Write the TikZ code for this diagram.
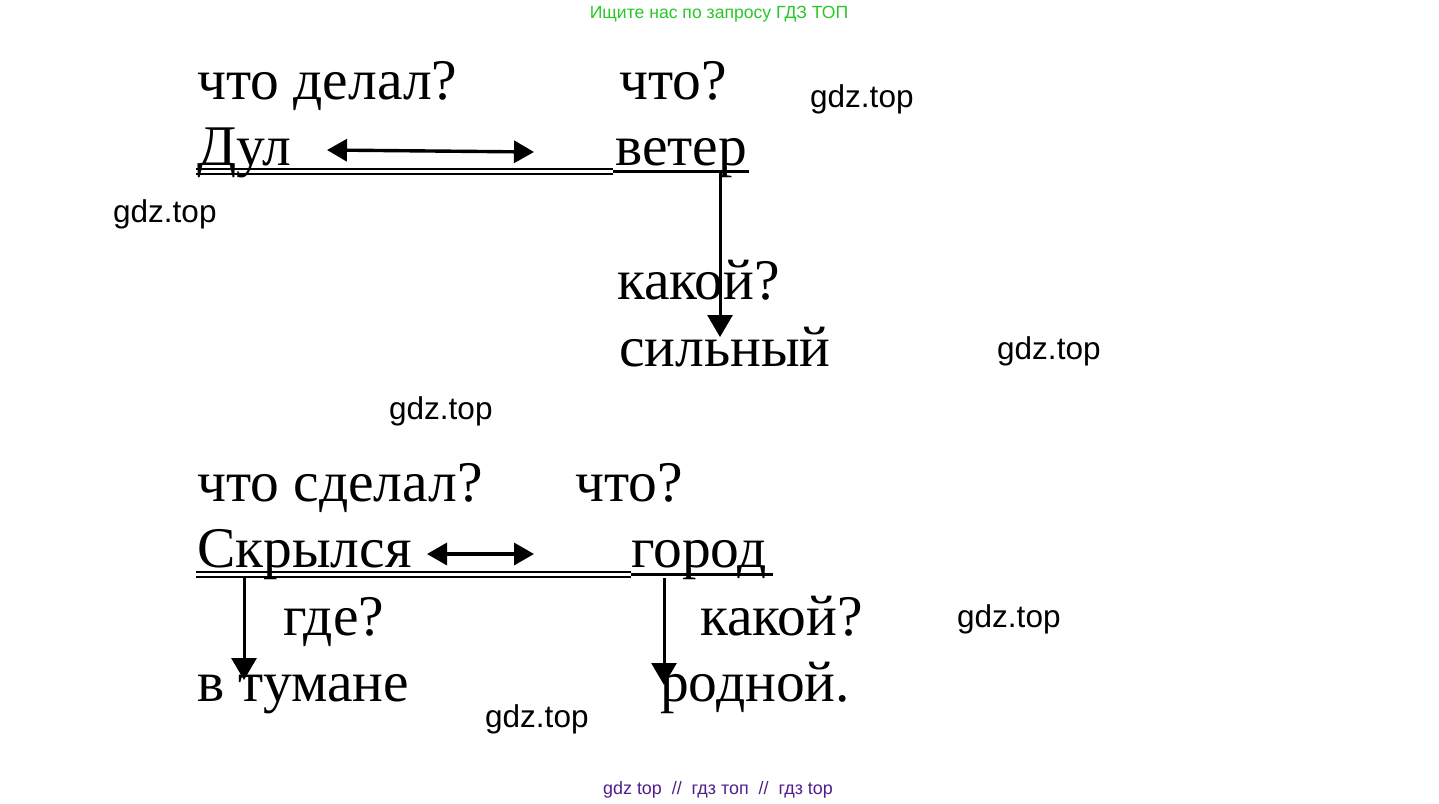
\documentclass[tikz,border=0pt]{standalone}
\usepackage{fontspec}
\setmainfont{Liberation Serif}
\newfontfamily\wmfont{Liberation Sans}
\usetikzlibrary{arrows.meta}
\definecolor{wmgreen}{RGB}{40,200,40}
\definecolor{wmpurple}{RGB}{80,30,140}
\tikzset{
  word/.style={anchor=base west, inner sep=0pt, font=\fontsize{57.5}{60}\selectfont},
  wm/.style={anchor=base west, inner sep=0pt, font=\wmfont\fontsize{31.5}{34}\selectfont},
  link/.style={line width=3.6pt},
  tip/.style={-{Triangle[length=22pt,width=25pt]}, line width=3pt},
  dtip/.style={{Triangle[length=20pt,width=22pt]}-{Triangle[length=20pt,width=22pt]}, line width=3.4pt},
  uline/.style={line width=2pt},
}
\begin{document}
\begin{tikzpicture}[x=1pt,y=-1pt]
\useasboundingbox (0,0) rectangle (1439,803);
\fill[white] (0,0) rectangle (1439,803);

% watermarks
\node[anchor=base, inner sep=0pt, font=\wmfont\fontsize{17.6}{19}\selectfont, text=wmgreen] (top) at (719,18) {Ищите нас по запросу ГДЗ ТОП};
\node[anchor=base, inner sep=0pt, font=\wmfont\fontsize{17.9}{19}\selectfont, text=wmpurple] (bot) at (718,794) {gdz top \ // \ гдз топ \ // \ гдз top};
\node[wm] (w1) at (810,107) {gdz.top};
\node[wm] (w2) at (113,222) {gdz.top};
\node[wm] (w3) at (997,359) {gdz.top};
\node[wm] (w4) at (389,419) {gdz.top};
\node[wm] (w5) at (957,627) {gdz.top};
\node[wm] (w6) at (485,727) {gdz.top};

% first sentence
\node[word] (q1) at (197,99) {что делал?};
\node[word] (q2) at (619,99) {что?};
\node[word] (dul) at (197,165) {Дул};
\node[word] (veter) at (615,165) {ветер};
\node[word] (q3) at (617,299) {какой?};
\node[word] (silny) at (619,366) {сильный};

\coordinate (a1) at (327,150);
\coordinate (a2) at (534,152);
\draw[dtip] (a1) -- (a2);
\coordinate (u1a) at (196,169);
\coordinate (u1b) at (613,169);
\coordinate (u1c) at (196,174);
\coordinate (u1d) at (613,174);
\draw[uline] (u1a) -- (u1b);
\draw[uline] (u1c) -- (u1d);
\coordinate (s1a) at (613,171.5);
\coordinate (s1b) at (749,171.5);
\draw[link] (s1a) -- (s1b);
\coordinate (v1a) at (720,171);
\coordinate (v1b) at (720,337);
\draw[tip] (v1a) -- (v1b);

% second sentence
\node[word] (q4) at (197,501) {что сделал?};
\node[word] (q5) at (575,501) {что?};
\node[word] (skr) at (197,567) {Скрылся};
\node[word] (gorod) at (631,567) {город};
\node[word] (q6) at (283,635) {где?};
\node[word] (q7) at (700,635) {какой?};
\node[word] (vtum) at (197,701) {в тумане};
\node[word] (rodn) at (660,701) {родной.};

\coordinate (a3) at (427,554);
\coordinate (a4) at (534,554);
\draw[dtip] (a3) -- (a4);
\coordinate (u2a) at (196,572);
\coordinate (u2b) at (631,572);
\coordinate (u2c) at (196,577);
\coordinate (u2d) at (631,577);
\draw[uline] (u2a) -- (u2b);
\draw[uline] (u2c) -- (u2d);
\coordinate (s2a) at (631,574.5);
\coordinate (s2b) at (773,574.5);
\draw[link] (s2a) -- (s2b);
\coordinate (v2a) at (244,577);
\coordinate (v2b) at (244,680);
\draw[tip] (v2a) -- (v2b);
\coordinate (v3a) at (664,578);
\coordinate (v3b) at (664,685);
\draw[tip] (v3a) -- (v3b);
\end{tikzpicture}
\end{document}
